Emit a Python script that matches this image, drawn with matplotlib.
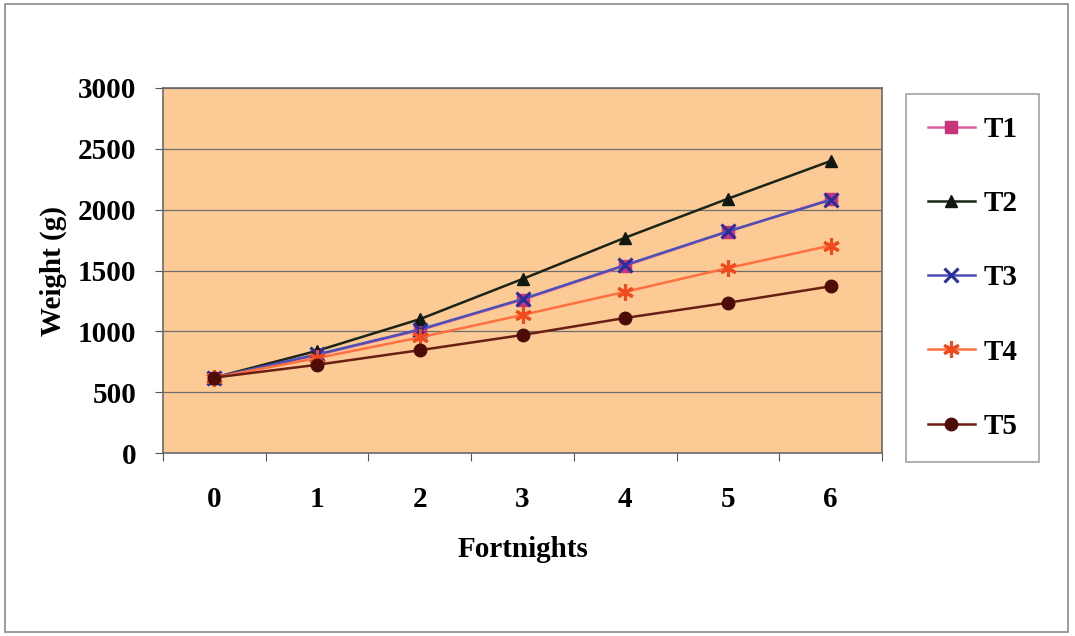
import matplotlib.pyplot as plt
from matplotlib.patches import Rectangle

fortnights = [0, 1, 2, 3, 4, 5, 6]
t1 = [620, 805, 1010, 1260, 1540, 1820, 2085]
t2 = [620, 840, 1100, 1430, 1770, 2090, 2400]
t3 = [620, 810, 1015, 1265, 1545, 1822, 2080]
t4 = [620, 780, 950, 1135, 1325, 1520, 1705]
t5 = [620, 725, 845, 970, 1110, 1235, 1370]

SERIES = [
    ("T1", t1, "#E05A9E", "#C8347A", "s", 8),
    ("T2", t2, "#1B2418", "#101810", "^", 9),
    ("T3", t3, "#4A50B8", "#2A2E9C", "x", 10),
    ("T4", t4, "#FF7040", "#F04A1E", (6, 2, 0), 12),
    ("T5", t5, "#6A1E14", "#4E0C08", "o", 9),
]

plt.rcParams["font.family"] = ["Liberation Serif", "DejaVu Serif"]
plt.rcParams["font.weight"] = "bold"
FS = 21

fig = plt.figure(figsize=(10.75, 6.36), dpi=100)
# outer chart frame
fig.patches.append(Rectangle((5 / 1075, 4 / 636), 1063 / 1075, 628 / 636,
                             transform=fig.transFigure, fill=False,
                             edgecolor="#8a8a8a", lw=1.2))

ax = fig.add_axes([163 / 1075, 1 - 453 / 636, 719 / 1075, 365 / 636])
ax.set_facecolor("#FCCA94")
ax.set_xlim(-0.5, 6.5)
ax.set_ylim(0, 3000)
ax.set_yticks(range(0, 3001, 500))
ax.yaxis.grid(True, color="#6e6e6e", lw=0.9)
ax.set_axisbelow(True)

lines = []
for name, vals, lc, mc, mk, ms in SERIES:
    ln, = ax.plot(fortnights, vals, color=lc, lw=1.8, marker=mk, ms=ms,
                  mfc=mc, mec=mc, mew=2.2 if mk in ("x", (6, 2, 0)) else 1,
                  label=name, zorder=3)
    lines.append(ln)

ax.set_xticks([x + 0.5 for x in range(-1, 7)])
ax.set_xticklabels([])
ax.set_xticks(fortnights, minor=True)
ax.set_xticklabels([str(f) for f in fortnights], minor=True)
ax.tick_params(axis="x", which="minor", length=0, pad=24, labelsize=FS)
ax.tick_params(axis="x", which="major", length=6, color="#555555")
ax.tick_params(axis="y", length=6, color="#555555", labelsize=FS, pad=13)
for sp in ax.spines.values():
    sp.set_color("#6a6a6a")
    sp.set_linewidth(1.2)

ax.set_xlabel("Fortnights", fontsize=FS, fontweight="bold", labelpad=16)
ax.set_ylabel("Weight (g)", fontsize=FS, fontweight="bold", labelpad=8)

leg = fig.legend(handles=lines, loc="upper left",
                 bbox_to_anchor=(906 / 1075, 1 - 94 / 636),
                 frameon=True, fancybox=False, edgecolor="#8a8a8a",
                 prop={"size": FS, "weight": "bold"}, labelspacing=1.62,
                 handlelength=1.6, handletextpad=0.3, borderpad=0.75,
                 borderaxespad=0)
leg.get_frame().set_linewidth(1.2)

fig.savefig("out.png", dpi=100)
